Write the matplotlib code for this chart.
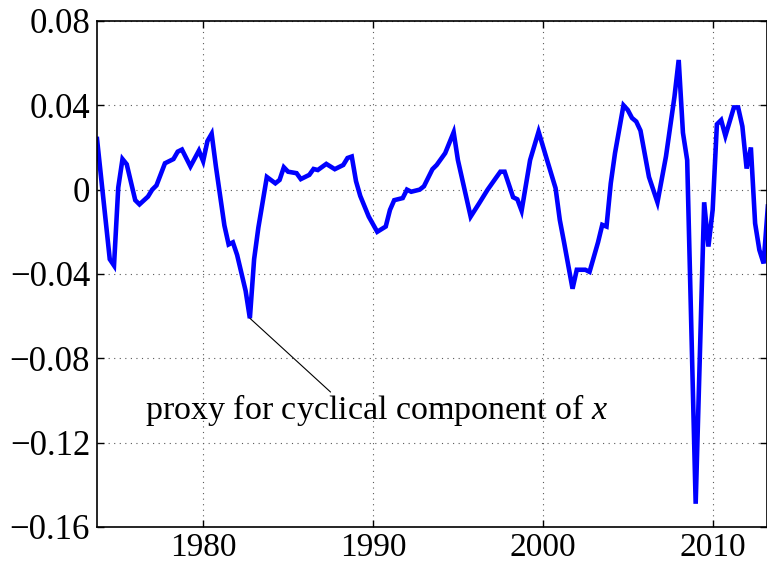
import numpy as np
import matplotlib
matplotlib.use("Agg")
import matplotlib.pyplot as plt

plt.rcParams['font.family'] = ['Liberation Serif', 'DejaVu Serif']
plt.rcParams['mathtext.fontset'] = 'custom'
plt.rcParams['mathtext.it'] = 'Liberation Serif:italic'
plt.rcParams['mathtext.rm'] = 'Liberation Serif'

# quarterly dates (turning points of the series) and values
dates = [1973.75, 1974.5, 1974.75, 1975.0, 1975.25, 1975.5, 1976.0, 1976.25,
         1976.75, 1977.0, 1977.25, 1977.75, 1978.25, 1978.5, 1978.75, 1979.25,
         1979.75, 1980.0, 1980.25, 1980.5, 1980.75, 1981.25, 1981.5, 1981.75,
         1982.0, 1982.5, 1982.75, 1983.0, 1983.25, 1983.75, 1984.25, 1984.5,
         1984.75, 1985.0, 1985.5, 1985.75, 1986.25, 1986.5, 1986.75, 1987.25,
         1987.75, 1988.25, 1988.5, 1988.75, 1989.0, 1989.25, 1989.75, 1990.25,
         1990.75, 1991.0, 1991.25, 1991.75, 1992.0, 1992.25, 1992.75, 1993.0,
         1993.5, 1993.75, 1994.25, 1994.75, 1995.0, 1995.75, 1996.25, 1996.75,
         1997.25, 1997.5, 1997.75, 1998.25, 1998.5, 1998.75, 1999.25, 1999.75,
         2000.25, 2000.75, 2001.0, 2001.25, 2001.5, 2001.75, 2002.0, 2002.5,
         2002.75, 2003.25, 2003.5, 2003.75, 2004.0, 2004.25, 2004.75, 2005.0,
         2005.25, 2005.5, 2005.75, 2006.25, 2006.75, 2007.25, 2007.75, 2008.0,
         2008.25, 2008.5, 2009.0, 2009.5, 2009.75, 2010.0, 2010.25, 2010.5,
         2010.75, 2011.25, 2011.5, 2011.75, 2012.0, 2012.25, 2012.5, 2012.75,
         2013.0, 2013.25]
cycle = [0.024, -0.033, -0.036, 0.001, 0.0145, 0.012, -0.005, -0.007,
         -0.0033, 0.000, 0.002, 0.0125, 0.0145, 0.018, 0.019, 0.011,
         0.0185, 0.0135, 0.023, 0.0265, 0.011, -0.017, -0.026, -0.025,
         -0.031, -0.048, -0.061, -0.033, -0.018, 0.006, 0.003, 0.0046,
         0.0106, 0.0085, 0.0078, 0.005, 0.007, 0.0098, 0.0093, 0.0122,
         0.0097, 0.0117, 0.015, 0.0157, 0.004, -0.003, -0.0128, -0.020,
         -0.0175, -0.0096, -0.005, -0.004, 0.000, -0.001, 0.000, 0.0016,
         0.0097, 0.0117, 0.0173, 0.0272, 0.014, -0.0128, -0.0065, 0.000,
         0.0057, 0.0085, 0.0085, -0.0036, -0.0046, -0.010, 0.014, 0.0275,
         0.014, 0.0007, -0.0144, -0.025, -0.036, -0.047, -0.038, -0.038,
         -0.039, -0.025, -0.0167, -0.0175, 0.003, 0.0173, 0.040, 0.0378,
         0.034, 0.0323, 0.028, 0.006, -0.006, 0.0157, 0.044, 0.0615,
         0.027, 0.014, -0.149, -0.006, -0.027, -0.0096, 0.031, 0.033,
         0.0255, 0.039, 0.039, 0.030, 0.010, 0.020, -0.016, -0.0286,
         -0.035, -0.008]

xticks = [1980, 1990, 2000, 2010]
yticks = [-0.16, -0.12, -0.08, -0.04, 0, 0.04, 0.08]
ylabels = ['\u22120.16', '\u22120.12', '\u22120.08', '\u22120.04', '0', '0.04', '0.08']

fig = plt.figure(figsize=(7.67, 5.65), dpi=100)
ax = fig.add_axes([0.1265, 0.0673, 0.8735, 0.8956])

ax.plot(dates, cycle, color=(0, 0, 1), lw=3.3, solid_joinstyle='miter')

ax.set_xlim(1973.75, 2013.2)
ax.set_ylim(-0.16, 0.08)
ax.set_xticks(xticks)
ax.set_xticklabels([str(t) for t in xticks])
ax.set_yticks(yticks)
ax.set_yticklabels(ylabels)
ax.tick_params(direction='in', top=True, right=True, length=5, width=1)
ax.tick_params(axis='x', labelsize=24, pad=4)
ax.tick_params(axis='y', labelsize=25, pad=5)
ax.grid(True, linestyle=(0, (1, 4)), color='0.35', lw=0.8)
for s in ax.spines.values():
    s.set_linewidth(1.2)

# annotation
ax.annotate('', xy=(1982.75, -0.061), xytext=(1987.5, -0.096),
            arrowprops=dict(arrowstyle='-', color='black', lw=0.8,
                            shrinkA=0, shrinkB=0))
ax.text(1990.2, -0.1045, 'proxy for cyclical component of $x$',
        ha='center', va='center', fontsize=24.5)

fig.savefig('out.png', dpi=100)
